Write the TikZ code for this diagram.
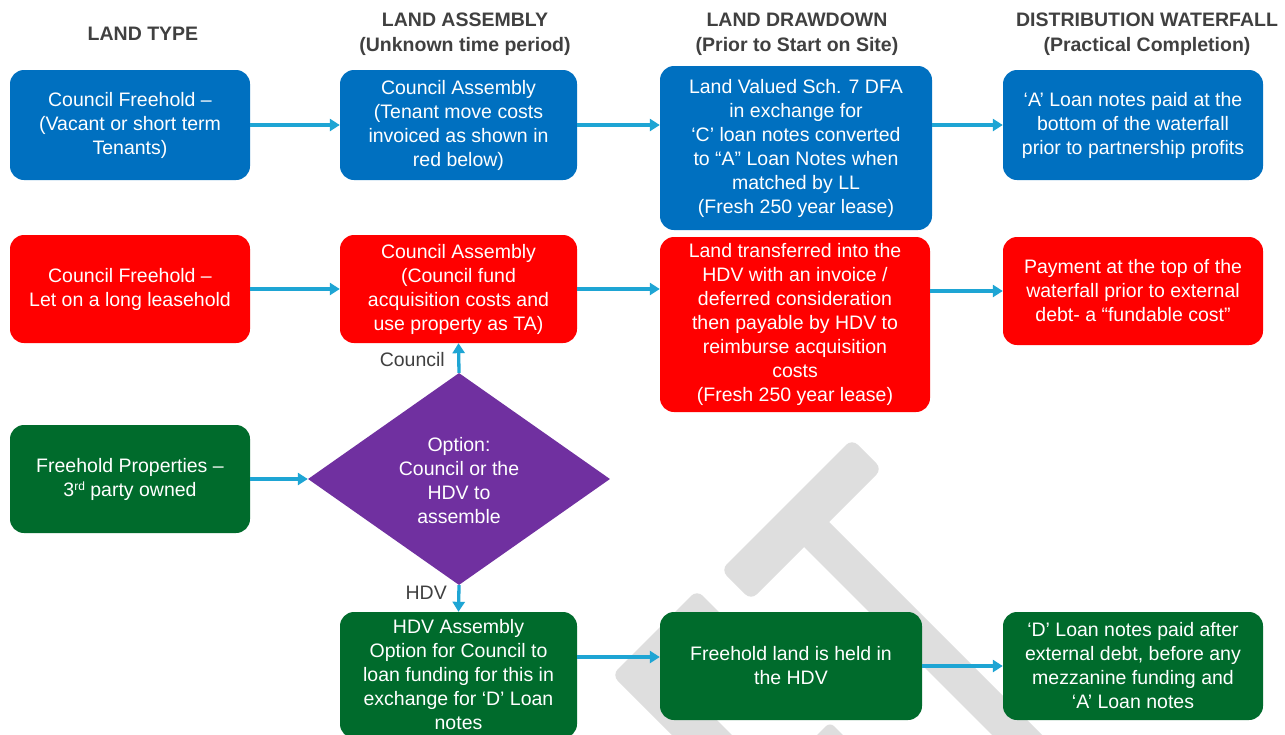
\documentclass[tikz,border=0pt]{standalone}
\usepackage{fontspec}
\setmainfont{Liberation Sans}
\usetikzlibrary{shapes.geometric,arrows.meta}
\definecolor{cblue}{RGB}{0,112,192}
\definecolor{cred}{RGB}{255,0,0}
\definecolor{cgreen}{RGB}{0,107,44}
\definecolor{cpurple}{RGB}{112,48,160}
\definecolor{carrow}{RGB}{30,165,212}
\definecolor{hgray}{RGB}{64,64,64}
\definecolor{wm}{RGB}{222,222,222}
\begin{document}
\begin{tikzpicture}[x=1pt,y=-1pt,
  every node/.style={font=\fontsize{19.5}{24}\selectfont},
  box/.style={rounded corners=14pt, text=white, align=center, inner sep=0pt},
  bluebox/.style={box, fill=cblue},
  redbox/.style={box, fill=cred},
  greenbox/.style={box, fill=cgreen},
  hdr/.style={font=\bfseries\fontsize{19.5}{25}\selectfont, text=hgray, align=center},
  lbl/.style={text=hgray, inner sep=0pt},
  arr/.style={draw=carrow, line width=3.3pt, -{Triangle[length=10pt,width=12pt]}}]
\useasboundingbox (0,0) rectangle (1285,734);
\clip (0,0) rectangle (1285,734);
\fill[white] (0,0) rectangle (1285,734);
% watermark
\fill[wm, rounded corners=8pt] (852,439) -- (882,469) -- (751,600) -- (721,570) -- cycle;
\fill[wm, rounded corners=8pt] (820,513) -- (1090,783) -- (1065,808) -- (795,538) -- cycle;
\fill[wm, rounded corners=8pt] (697,590) -- (612,675) -- (737,800) -- (797,800) -- (672,675) -- (727,620) -- cycle;
\fill[wm, rounded corners=6pt] (805,747) -- (830,722) -- (855,747) -- cycle;
% headers
\node[hdr] (h1) at (143,34) {LAND TYPE};
\node[hdr] (h2) at (465,34.5) {LAND ASSEMBLY\\(Unknown time period)};
\node[hdr] (h3) at (797,34.5) {LAND DRAWDOWN\\(Prior to Start on Site)};
\node[hdr] (h4) at (1147,34.5) {DISTRIBUTION WATERFALL\\(Practical Completion)};
% row 1
\node[bluebox, minimum width=240, minimum height=110] (B1) at (130,125) {Council Freehold –\\(Vacant or short term\\Tenants)};
\node[bluebox, minimum width=237, minimum height=110] (B2) at (458.5,125) {Council Assembly\\(Tenant move costs\\invoiced as shown in\\red below)};
\node[bluebox, minimum width=272, minimum height=164] (B3) at (796,148) {Land Valued Sch. 7 DFA\\in exchange for\\‘C’ loan notes converted\\to “A” Loan Notes when\\matched by LL\\(Fresh 250 year lease)};
\node[bluebox, minimum width=260, minimum height=110] (B4) at (1133,125) {‘A’ Loan notes paid at the\\bottom of the waterfall\\prior to partnership profits};
% row 2
\node[redbox, minimum width=240, minimum height=108] (R1) at (130,289) {Council Freehold –\\Let on a long leasehold};
\node[redbox, minimum width=237, minimum height=108] (R2) at (458.5,289) {Council Assembly\\(Council fund\\acquisition costs and\\use property as TA)};
\node[redbox, minimum width=270, minimum height=175] (R3) at (795,324.5) {Land transferred into the\\HDV with an invoice /\\deferred consideration\\then payable by HDV to\\reimburse acquisition\\costs\\(Fresh 250 year lease)};
\node[redbox, minimum width=260, minimum height=108] (R4) at (1133,291) {Payment at the top of the\\waterfall prior to external\\debt- a “fundable cost”};
% row 3
\node[greenbox, minimum width=240, minimum height=108] (G1) at (130,479) {Freehold Properties –\\3{\fontsize{12}{12}\selectfont\raisebox{6pt}{rd}} party owned};
\node[diamond, fill=cpurple, minimum width=302, minimum height=212, inner sep=0pt] (D) at (459,479) {};
\node[text=white, align=center] (Dt) at (459,481) {Option:\\Council or the\\HDV to\\assemble};
% row 4
\node[greenbox, minimum width=237, minimum height=126] (G2) at (458.5,675) {HDV Assembly\\Option for Council to\\loan funding for this in\\exchange for ‘D’ Loan\\notes};
\node[greenbox, minimum width=262, minimum height=108] (G3) at (791,666) {Freehold land is held in\\the HDV};
\node[greenbox, minimum width=260, minimum height=108] (G4) at (1133,666) {‘D’ Loan notes paid after\\external debt, before any\\mezzanine funding and\\‘A’ Loan notes};
% labels
\node[lbl, anchor=east] (lc) at (445,360) {Council};
\node[lbl, anchor=east] (lh) at (447,593) {HDV};
% arrows
\draw[arr] (B1.east) -- (B2.west);
\draw[arr] (B2.east) -- (B3.west |- B2.east);
\draw[arr] (B3.east |- B4.west) -- (B4.west);
\draw[arr] (R1.east) -- (R2.west);
\draw[arr] (R2.east) -- (R3.west |- R2.east);
\draw[arr] (R3.east |- R4.west) -- (R4.west);
\draw[arr] (G1.east) -- (D.west);
\draw[arr] (D.north) -- (R2.south);
\draw[arr] (D.south) -- (G2.north);
\coordinate (yg) at (0,657);
\draw[arr] (G2.east |- yg) -- (G3.west |- yg);
\draw[arr] (G3.east) -- (G4.west);
\end{tikzpicture}
\end{document}
